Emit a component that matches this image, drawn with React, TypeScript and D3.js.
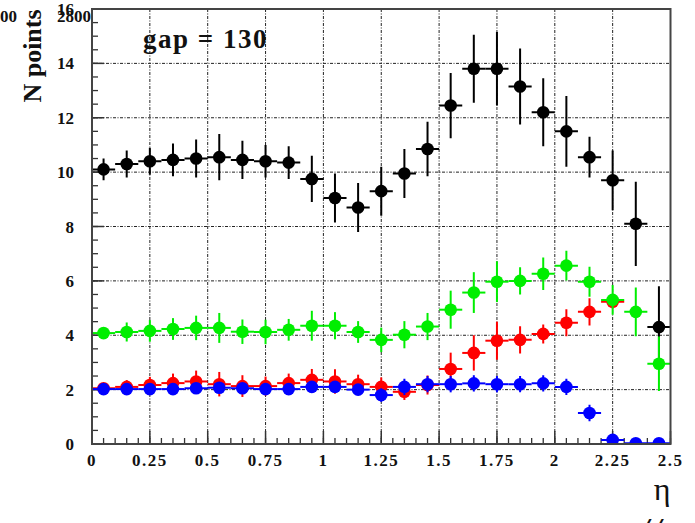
import React from "react";
import * as d3 from "d3";

const binCenters = [0.05,0.15,0.25,0.35,0.45,0.55,0.65,0.75,0.85,0.95,1.05,1.15,1.25,1.35,1.45,1.55,1.65,1.75,1.85,1.95,2.05,2.15,2.25,2.35,2.45];

const blackVals = [10.1,10.3,10.4,10.45,10.5,10.55,10.45,10.4,10.35,9.75,9.05,8.7,9.3,9.95,10.85,12.45,13.8,13.8,13.15,12.2,11.5,10.55,9.7,8.1,4.3];
const blackErrs = [0.4,0.5,0.5,0.6,0.7,0.85,0.7,0.6,0.6,0.85,0.9,0.9,0.9,0.9,1.0,1.2,1.25,1.35,1.4,1.25,1.3,0.75,1.1,1.55,1.5];

const greenVals = [4.08,4.12,4.16,4.23,4.27,4.27,4.13,4.12,4.2,4.35,4.35,4.12,3.83,4.02,4.32,4.94,5.57,5.97,6.0,6.26,6.56,5.97,5.3,4.86,2.95];
const greenErrs = [0.2,0.35,0.4,0.4,0.45,0.55,0.45,0.45,0.4,0.55,0.5,0.4,0.45,0.5,0.5,0.7,0.75,0.75,0.5,0.6,0.55,0.55,0.55,0.9,1.0];

const redVals = [2.05,2.1,2.17,2.24,2.3,2.2,2.13,2.13,2.24,2.36,2.3,2.2,2.1,1.92,2.17,2.76,3.35,3.8,3.83,4.05,4.46,4.86,5.23];
const redErrs = [0.15,0.25,0.3,0.35,0.4,0.45,0.4,0.35,0.35,0.4,0.45,0.35,0.35,0.3,0.35,0.6,0.65,0.7,0.5,0.35,0.5,0.5,0.25];

const blueVals = [2.02,2.02,2.02,2.02,2.05,2.07,2.05,2.02,2.02,2.1,2.1,2.0,1.8,2.1,2.2,2.2,2.23,2.2,2.2,2.23,2.1,1.14,0.15,0.03,0.03];
const blueErrs = [0.12,0.15,0.15,0.15,0.15,0.2,0.15,0.15,0.15,0.2,0.2,0.2,0.25,0.3,0.3,0.3,0.3,0.3,0.3,0.3,0.3,0.3,0.1,0.05,0.05];

const xTickLabels = ["0","0.25","0.5","0.75","1","1.25","1.5","1.75","2","2.25","2.5"];
const yTickLabels = ["0","2","4","6","8","10","12","14","16"];

const series = [
  { name: "black", color: "#000000", vals: blackVals, errs: blackErrs },
  { name: "red", color: "#ff0000", vals: redVals, errs: redErrs },
  { name: "green", color: "#00ee00", vals: greenVals, errs: greenErrs },
  { name: "blue", color: "#0000ff", vals: blueVals, errs: blueErrs },
];

const W = 695, H = 523;
const L = 92, R = 670.5, T = 9, B = 444;
const FONT = "'Liberation Serif', 'Times New Roman', serif";

export default function App() {
  const x = d3.scaleLinear().domain([0, 2.5]).range([L, R]);
  const y = d3.scaleLinear().domain([0, 16]).range([B, T]);
  const halfBin = 0.05;

  const xMajor = xTickLabels.map(Number);
  const xMinor = d3.range(0, 51).map(i => i * 0.05);
  const yMajor = yTickLabels.map(Number);
  const yMinor = d3.range(0, 33).map(i => i * 0.5);

  const gridDash = "3,1.5,1,1.5";

  return (
    <svg width={W} height={H} style={{ position: "fixed", left: 0, top: 0, background: "#fff" }}>
      <defs>
        <clipPath id="plotClip">
          <rect x={L} y={T} width={R - L} height={B - T} />
        </clipPath>
      </defs>
      <rect x={0} y={0} width={W} height={H} fill="#fff" />

      {/* grid */}
      {xMajor.filter(v => v > 0 && v < 2.5).map(v => (
        <line key={"gx" + v} x1={x(v)} x2={x(v)} y1={T} y2={B} stroke="#222" strokeWidth={1} strokeDasharray={gridDash} />
      ))}
      {yMajor.filter(v => v > 0 && v < 16).map(v => (
        <line key={"gy" + v} x1={L} x2={R} y1={y(v)} y2={y(v)} stroke="#222" strokeWidth={1} strokeDasharray={gridDash} />
      ))}

      {/* ticks */}
      {xMinor.map(v => (
        <line key={"xm" + v} x1={x(v)} x2={x(v)} y1={B} y2={B - 6} stroke="#333" strokeWidth={1.3} />
      ))}
      {xMajor.map(v => (
        <line key={"xM" + v} x1={x(v)} x2={x(v)} y1={B} y2={B - 13} stroke="#333" strokeWidth={1.5} />
      ))}
      {yMinor.map(v => (
        <line key={"ym" + v} x1={L} x2={L + 6} y1={y(v)} y2={y(v)} stroke="#333" strokeWidth={1.3} />
      ))}
      {yMajor.map(v => (
        <line key={"yM" + v} x1={L} x2={L + 12} y1={y(v)} y2={y(v)} stroke="#333" strokeWidth={1.5} />
      ))}

      {/* data */}
      <g clipPath="url(#plotClip)">
        {series.map(s => (
          <g key={s.name}>
            {s.vals.map((v, i) => {
              const c = binCenters[i];
              const e = s.errs[i];
              return (
                <g key={i}>
                  <line x1={x(c - halfBin)} x2={x(c + halfBin)} y1={y(v)} y2={y(v)} stroke={s.color} strokeWidth={2} />
                  <line x1={x(c)} x2={x(c)} y1={y(v - e)} y2={y(v + e)} stroke={s.color} strokeWidth={2} />
                  <circle cx={x(c)} cy={y(v)} r={6.3} fill={s.color} />
                </g>
              );
            })}
          </g>
        ))}
      </g>

      {/* frame */}
      <rect x={L} y={T} width={R - L} height={B - T} fill="none" stroke="#444" strokeWidth={2} />

      {/* tick labels */}
      {xTickLabels.map((t, i) => (
        <text key={"xl" + t} x={x(xMajor[i])} y={466} textAnchor="middle" fontFamily={FONT} fontWeight="bold" fontSize={17} letterSpacing={1.5} fill="#111">{t}</text>
      ))}
      {yTickLabels.map((t, i) => (
        <text key={"yl" + t} x={74} y={y(yMajor[i]) + 6} textAnchor="end" fontFamily={FONT} fontWeight="bold" fontSize={17} fill="#111">{t}</text>
      ))}
      <text x={91} y={22} textAnchor="end" fontFamily={FONT} fontWeight="bold" fontSize={17} fill="#111">2800</text>
      <text x={0} y={22} fontFamily={FONT} fontWeight="bold" fontSize={17} fill="#111">00</text>

      {/* titles */}
      <text transform="translate(41,56) rotate(-90)" textAnchor="middle" fontFamily={FONT} fontWeight="bold" fontSize={26} fill="#111">N points</text>
      <text x={143} y={48} fontFamily={FONT} fontWeight="bold" fontSize={27} letterSpacing={1.5} fill="#111">gap = 130</text>
      <text x={662} y={500} textAnchor="middle" fontFamily={FONT} fontSize={32} fill="#111">η</text>
      <text x={636} y={548} fontFamily={FONT} fontStyle="italic" fontSize={44} fill="#111">//</text>
    </svg>
  );
}
